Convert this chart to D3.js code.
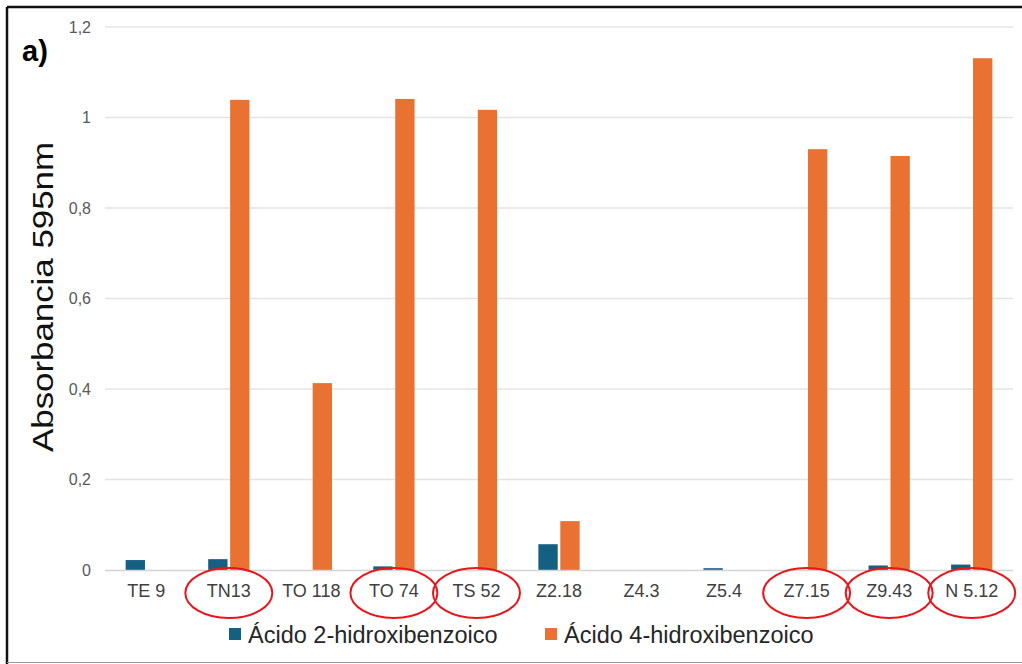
<!DOCTYPE html>
<html>
<head>
<meta charset="utf-8">
<script src="https://cdn.jsdelivr.net/npm/d3@7"></script>
<style>
  html, body { margin: 0; padding: 0; background: #fff; }
  svg { display: block; }
</style>
</head>
<body>
<svg id="chart" width="1022" height="664"></svg>
<script>
// Strain labels along the x axis
const categories = ["TE 9", "TN13", "TO 118", "TO 74", "TS 52", "Z2.18", "Z4.3", "Z5.4", "Z7.15", "Z9.43", "N 5.12"];
// Absorbance at 595 nm for each acid
const acid2 = [0.022, 0.024, 0, 0.008, 0, 0.057, 0, 0.004, 0, 0.010, 0.012];
const acid4 = [0, 1.039, 0.413, 1.041, 1.017, 0.108, 0, 0, 0.930, 0.915, 1.131];
const seriesNames = ["Ácido 2-hidroxibenzoico", "Ácido 4-hidroxibenzoico"];
const yTicks = [0, 0.2, 0.4, 0.6, 0.8, 1, 1.2];
// Strains circled in red
const highlighted = ["TN13", "TO 74", "TS 52", "Z7.15", "Z9.43", "N 5.12"];

const colors = ["#156082", "#E97132"];
const font = "Liberation Sans, Arial, sans-serif";
const svg = d3.select("#chart");
const W = 1022, H = 664;
const plot = { left: 105, right: 1013, top: 27, bottom: 570 };

// Outer frame
svg.append("line").attr("x1", 7).attr("x2", W).attr("y1", 7).attr("y2", 7)
  .attr("stroke", "#111").attr("stroke-width", 2.5);
svg.append("line").attr("x1", 7).attr("x2", 7).attr("y1", 7).attr("y2", H)
  .attr("stroke", "#111").attr("stroke-width", 2.5);
svg.append("line").attr("x1", 7).attr("x2", W).attr("y1", 662.5).attr("y2", 662.5)
  .attr("stroke", "#999").attr("stroke-width", 1);

const x0 = d3.scaleBand().domain(categories).range([plot.left, plot.right]).paddingInner(0.5).paddingOuter(0.25);
const x1 = d3.scaleBand().domain([0, 1]).range([0, x0.bandwidth()]).paddingInner(0.12);
const y = d3.scaleLinear().domain([0, 1.2]).range([plot.bottom, plot.top]);
const fmt = d => String(+d.toFixed(1)).replace(".", ",");

// Gridlines
svg.append("g").selectAll("line").data(yTicks.filter(t => t > 0)).join("line")
  .attr("x1", plot.left).attr("x2", plot.right)
  .attr("y1", d => y(d)).attr("y2", d => y(d))
  .attr("stroke", "#e3e3e3").attr("stroke-width", 1.3);

// Y axis labels
const yAxis = d3.axisLeft(y).tickValues(yTicks).tickFormat(fmt).tickSize(0).tickPadding(14);
const gy = svg.append("g").attr("transform", `translate(${plot.left},0)`).call(yAxis);
gy.select(".domain").remove();
gy.selectAll("text").attr("font-family", font).attr("font-size", 16).attr("fill", "#595959");

// Bars
const groups = svg.append("g").selectAll("g").data(categories).join("g")
  .attr("transform", d => `translate(${x0(d)},0)`);
groups.selectAll("rect").data((d, i) => [acid2[i], acid4[i]].map((v, s) => ({ v, s })))
  .join("rect")
  .attr("x", d => x1(d.s))
  .attr("width", x1.bandwidth())
  .attr("y", d => y(d.v))
  .attr("height", d => y(0) - y(d.v))
  .attr("fill", d => colors[d.s]);

// Zero baseline
svg.append("line").attr("x1", plot.left).attr("x2", plot.right)
  .attr("y1", y(0) + 0.5).attr("y2", y(0) + 0.5)
  .attr("stroke", "#d4d4d4").attr("stroke-width", 1.3);

// X axis labels
const xAxis = d3.axisBottom(x0).tickSize(0).tickPadding(14);
const gx = svg.append("g").attr("transform", `translate(0,${plot.bottom})`).call(xAxis);
gx.select(".domain").remove();
gx.selectAll("text").attr("font-family", font).attr("font-size", 18).attr("fill", "#404040");

// Red ellipses around selected strains
svg.append("g").selectAll("ellipse").data(highlighted).join("ellipse")
  .attr("cx", d => x0(d) + x0.bandwidth() / 2)
  .attr("cy", 593)
  .attr("rx", 43.5)
  .attr("ry", 25)
  .attr("fill", "none")
  .attr("stroke", "#e8161b")
  .attr("stroke-width", 2);

// Y axis title
svg.append("text")
  .attr("transform", "translate(53,297) rotate(-90)")
  .attr("text-anchor", "middle")
  .attr("font-family", font)
  .attr("font-size", 29)
  .attr("textLength", 310)
  .attr("lengthAdjust", "spacingAndGlyphs")
  .attr("fill", "#111")
  .text("Absorbancia 595nm");

// Panel label
svg.append("text").attr("x", 22).attr("y", 61)
  .attr("font-family", font)
  .attr("font-weight", "bold").attr("font-size", 29).attr("fill", "#000")
  .text("a)");

// Legend
const legendX = [229, 545];
const legend = svg.append("g").selectAll("g").data(seriesNames).join("g")
  .attr("transform", (d, i) => `translate(${legendX[i]},634)`);
legend.append("rect").attr("x", 0).attr("y", -6).attr("width", 12).attr("height", 12)
  .attr("fill", (d, i) => colors[i]);
legend.append("text").attr("x", 19).attr("y", 8.5)
  .attr("font-family", font)
  .attr("font-size", 23.5).attr("fill", "#262626")
  .text(d => d);
</script>
</body>
</html>
